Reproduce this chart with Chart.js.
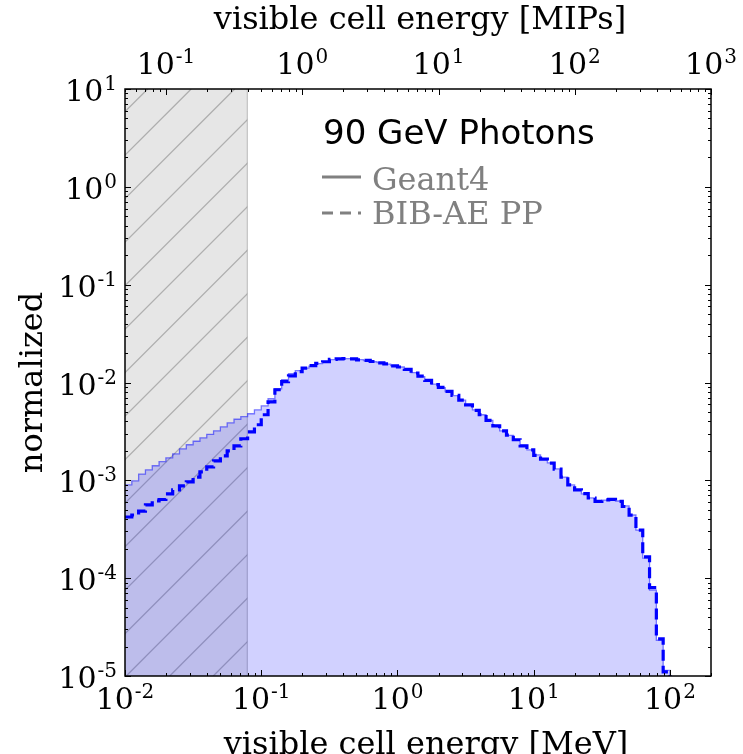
<!DOCTYPE html>
<html>
<head>
<meta charset="utf-8">
<script src="https://cdn.jsdelivr.net/npm/chart.js@4.4.1/dist/chart.umd.min.js"></script>
<style>
  html, body { margin: 0; padding: 0; background: #fff; }
  canvas { display: block; }
</style>
</head>
<body>
<canvas id="chart" width="743" height="754"></canvas>
<script>
// axis ranges (MeV on bottom, MIPs on top)
const E_MIN = 0.01, E_MAX = 200;
const MIP_MEV = 0.2;
const CUT_MEV = 0.079;          // hatched region below this
const Y_MIN = 1e-5, Y_MAX = 10;

// log binning of both histograms: 20 bins per decade from 10^-2 to 10^2 MeV
const BIN_LOG_START = -2, BIN_LOG_WIDTH = 0.05, N_BINS = 80;

const geant4 = [
  8.97e-4, 9.86e-4, 1.16e-3, 1.28e-3, 1.41e-3, 1.55e-3, 1.70e-3, 1.86e-3, 2.10e-3, 2.31e-3,
  2.51e-3, 2.72e-3, 2.95e-3, 3.21e-3, 3.52e-3, 3.87e-3, 4.21e-3, 4.47e-3, 4.79e-3, 5.26e-3,
  5.78e-3, 6.82e-3, 8.63e-3, 1.07e-2, 1.23e-2, 1.32e-2, 1.40e-2, 1.47e-2, 1.56e-2, 1.61e-2,
  1.71e-2, 1.75e-2, 1.75e-2, 1.75e-2, 1.71e-2, 1.67e-2, 1.63e-2, 1.60e-2, 1.54e-2, 1.49e-2,
  1.44e-2, 1.35e-2, 1.26e-2, 1.15e-2, 1.04e-2, 9.61e-3, 8.85e-3, 8.05e-3, 7.33e-3, 6.59e-3,
  5.93e-3, 5.26e-3, 4.68e-3, 4.11e-3, 3.65e-3, 3.21e-3, 2.88e-3, 2.59e-3, 2.28e-3, 2.05e-3,
  1.82e-3, 1.66e-3, 1.51e-3, 1.31e-3, 1.08e-3, 8.97e-4, 7.98e-4, 7.26e-4, 6.61e-4, 6.15e-4,
  6.29e-4, 6.37e-4, 6.15e-4, 5.47e-4, 4.42e-4, 3.10e-4, 1.60e-4, 7.53e-5, 2.32e-5, 1.14e-5
];

const bibae = [
  4.22e-4, 4.42e-4, 4.85e-4, 5.60e-4, 6.15e-4, 6.37e-4, 7.26e-4, 7.98e-4, 8.77e-4, 9.63e-4,
  1.08e-3, 1.22e-3, 1.37e-3, 1.58e-3, 1.78e-3, 2.00e-3, 2.25e-3, 2.66e-3, 3.13e-3, 3.70e-3,
  4.68e-3, 6.35e-3, 8.43e-3, 1.02e-2, 1.17e-2, 1.29e-2, 1.40e-2, 1.49e-2, 1.57e-2, 1.63e-2,
  1.72e-2, 1.74e-2, 1.76e-2, 1.74e-2, 1.70e-2, 1.68e-2, 1.64e-2, 1.59e-2, 1.55e-2, 1.48e-2,
  1.44e-2, 1.36e-2, 1.25e-2, 1.16e-2, 1.05e-2, 9.50e-3, 8.90e-3, 8.10e-3, 7.40e-3, 6.60e-3,
  5.90e-3, 5.20e-3, 4.70e-3, 4.10e-3, 3.60e-3, 3.20e-3, 2.90e-3, 2.60e-3, 2.25e-3, 2.05e-3,
  1.80e-3, 1.65e-3, 1.50e-3, 1.30e-3, 1.08e-3, 9.00e-4, 8.00e-4, 7.30e-4, 6.60e-4, 6.10e-4,
  6.30e-4, 6.40e-4, 6.10e-4, 5.40e-4, 4.40e-4, 3.10e-4, 1.65e-4, 8.00e-5, 2.40e-5, 1.10e-5
];

// tick exponents
const xExps = [-2, -1, 0, 1, 2];
const mipExps = [-1, 0, 1, 2, 3];
const yExps = [1, 0, -1, -2, -3, -4, -5];

const legendTitle = '90 GeV Photons';
const legendLabels = ['Geant4', 'BIB-AE PP'];

const SERIF = '"DejaVu Serif", serif';
const SANS = '"DejaVu Sans", sans-serif';

// histogram -> stepped points at left bin edges, closed at the last right edge
function toSteps(values) {
  const pts = values.map((v, i) => ({ x: Math.pow(10, BIN_LOG_START + i * BIN_LOG_WIDTH), y: v }));
  pts.push({ x: Math.pow(10, BIN_LOG_START + N_BINS * BIN_LOG_WIDTH), y: 1e-9 });
  return pts;
}

function minorValues(lo, hi) {
  const out = [];
  for (let d = Math.floor(Math.log10(lo)) - 1; d <= Math.ceil(Math.log10(hi)); d++) {
    for (let m = 1; m <= 9; m++) {
      const v = m * Math.pow(10, d);
      if (v >= lo * 0.9999 && v <= hi * 1.0001) out.push({ v, major: m === 1 });
    }
  }
  return out;
}

// "10" with a raised exponent
function drawPower(ctx, exp, x, baseline, align) {
  const mainFont = '30px ' + SERIF, supFont = '20px ' + SERIF;
  const sup = String(exp);
  ctx.font = mainFont;
  const w1 = ctx.measureText('10').width;
  ctx.font = supFont;
  const w2 = ctx.measureText(sup).width;
  const total = w1 + w2 + 1;
  let left = x - total / 2;
  if (align === 'right') left = x - total;
  ctx.textAlign = 'left';
  ctx.textBaseline = 'alphabetic';
  ctx.font = mainFont;
  ctx.fillText('10', left, baseline);
  ctx.font = supFont;
  ctx.fillText(sup, left + w1 + 1, baseline - 11);
}

const shadePlugin = {
  id: 'shade',
  beforeDatasetsDraw(chart) {
    const { ctx, chartArea: a, scales } = chart;
    const x0 = scales.x.getPixelForValue(E_MIN);
    const x1 = scales.x.getPixelForValue(CUT_MEV);
    ctx.save();
    ctx.fillStyle = 'rgba(128,128,128,0.2)';
    ctx.fillRect(x0, a.top, x1 - x0, a.bottom - a.top);
    ctx.beginPath();
    ctx.rect(x0, a.top, x1 - x0, a.bottom - a.top);
    ctx.clip();
    ctx.strokeStyle = 'rgba(90,90,90,0.4)';
    ctx.lineWidth = 1.3;
    const spacing = 43.5;
    for (let c = 236.7 - spacing * 10; c < a.bottom + x1 + spacing; c += spacing) {
      ctx.beginPath();
      ctx.moveTo(c - a.bottom, a.bottom);
      ctx.lineTo(c - a.top, a.top);
      ctx.stroke();
    }
    ctx.restore();
    ctx.save();
    ctx.strokeStyle = 'rgba(128,128,128,0.5)';
    ctx.lineWidth = 1;
    ctx.beginPath();
    ctx.moveTo(x1, a.top);
    ctx.lineTo(x1, a.bottom);
    ctx.stroke();
    ctx.restore();
  }
};

const framePlugin = {
  id: 'frame',
  afterDatasetsDraw(chart) {
    const { ctx, chartArea: a, scales } = chart;
    const sx = scales.x, sx2 = scales.x2, sy = scales.y;
    ctx.save();
    ctx.strokeStyle = '#000';
    ctx.fillStyle = '#000';

    // ticks, inward on all four sides
    ctx.lineWidth = 1;
    ctx.beginPath();
    minorValues(E_MIN, E_MAX).forEach(t => {
      const px = Math.round(sx.getPixelForValue(t.v)) + 0.5;
      const len = t.major ? 6 : 3;
      ctx.moveTo(px, a.bottom); ctx.lineTo(px, a.bottom - len);
    });
    minorValues(E_MIN / MIP_MEV, E_MAX / MIP_MEV).forEach(t => {
      const px = Math.round(sx2.getPixelForValue(t.v)) + 0.5;
      const len = t.major ? 6 : 3;
      ctx.moveTo(px, a.top); ctx.lineTo(px, a.top + len);
    });
    minorValues(Y_MIN, Y_MAX).forEach(t => {
      const py = Math.round(sy.getPixelForValue(t.v)) + 0.5;
      const len = t.major ? 6 : 3;
      ctx.moveTo(a.left, py); ctx.lineTo(a.left + len, py);
      ctx.moveTo(a.right, py); ctx.lineTo(a.right - len, py);
    });
    ctx.stroke();

    ctx.lineWidth = 1.5;
    ctx.strokeRect(a.left, a.top, a.right - a.left, a.bottom - a.top);

    // tick labels
    ctx.fillStyle = '#000';
    xExps.forEach(e => drawPower(ctx, e, sx.getPixelForValue(Math.pow(10, e)), a.bottom + 33, 'center'));
    mipExps.forEach(e => drawPower(ctx, e, sx2.getPixelForValue(Math.pow(10, e)), a.top - 15, 'center'));
    yExps.forEach(e => drawPower(ctx, e, a.left - 8, sy.getPixelForValue(Math.pow(10, e)) + 12, 'right'));

    // axis titles
    const cx = (a.left + a.right) / 2;
    ctx.font = '32px ' + SERIF;
    ctx.textAlign = 'center';
    ctx.textBaseline = 'alphabetic';
    ctx.fillText('visible cell energy [MIPs]', cx + 2, 29);
    ctx.fillText('visible cell energy [MeV]', cx + 8, a.bottom + 78);
    ctx.save();
    ctx.translate(42, (a.top + a.bottom) / 2);
    ctx.rotate(-Math.PI / 2);
    ctx.fillText('normalized', 0, 0);
    ctx.restore();

    // legend
    ctx.textAlign = 'left';
    ctx.font = '34px ' + SANS;
    ctx.fillStyle = '#000';
    ctx.fillText(legendTitle, 323, 144);
    ctx.strokeStyle = '#808080';
    ctx.lineWidth = 3;
    ctx.beginPath();
    ctx.moveTo(322, 177); ctx.lineTo(361, 177);
    ctx.stroke();
    ctx.setLineDash([11, 7]);
    ctx.beginPath();
    ctx.moveTo(322, 213); ctx.lineTo(361, 213);
    ctx.stroke();
    ctx.setLineDash([]);
    ctx.font = '32px ' + SERIF;
    ctx.fillStyle = '#808080';
    ctx.fillText(legendLabels[0], 372, 190);
    ctx.fillText(legendLabels[1], 372, 224);
    ctx.restore();
  }
};

new Chart(document.getElementById('chart'), {
  type: 'line',
  data: {
    datasets: [
      {
        label: legendLabels[0],
        data: toSteps(geant4),
        stepped: true,
        borderColor: 'rgba(0,0,255,0.5)',
        backgroundColor: 'rgba(0,0,255,0.18)',
        borderWidth: 1.3,
        pointRadius: 0,
        fill: 'start'
      },
      {
        label: legendLabels[1],
        data: toSteps(bibae),
        stepped: true,
        borderColor: '#0000ff',
        borderWidth: 3.2,
        borderDash: [11, 5],
        pointRadius: 0,
        fill: false
      }
    ]
  },
  options: {
    responsive: false,
    animation: false,
    devicePixelRatio: 1,
    layout: { padding: { left: 125, top: 89, right: 32, bottom: 78 } },
    scales: {
      x: { type: 'logarithmic', min: E_MIN, max: E_MAX, display: false },
      x2: { type: 'logarithmic', position: 'top', min: E_MIN / MIP_MEV, max: E_MAX / MIP_MEV, display: false },
      y: { type: 'logarithmic', min: Y_MIN, max: Y_MAX, display: false }
    },
    plugins: { legend: { display: false }, tooltip: { enabled: false } }
  },
  plugins: [shadePlugin, framePlugin]
});
</script>
</body>
</html>
